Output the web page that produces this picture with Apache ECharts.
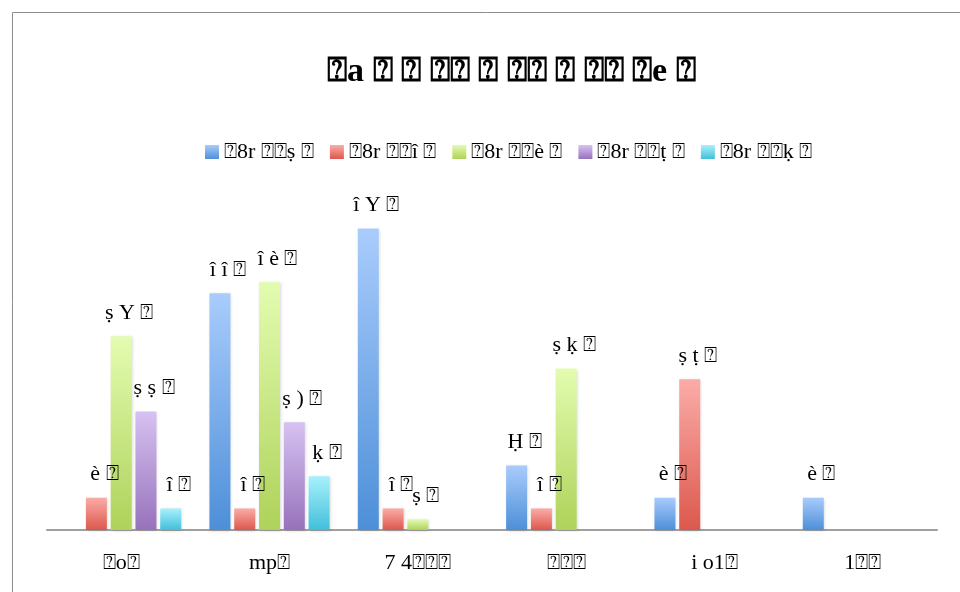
<!DOCTYPE html>
<html>
<head>
<meta charset="utf-8">
<script src="https://cdn.jsdelivr.net/npm/echarts@6/dist/echarts.min.js"></script>
<style>
  html, body { margin: 0; padding: 0; background: #fff; }
  #chart { width: 960px; height: 592px; }
</style>
</head>
<body>
<div id="chart"></div>
<script>
// missing-glyph box as it shows in the source picture
const X = "\u2370";

const titleText = X + "a " + X + " " + X + " " + X + X + " " + X + " " + X + X + " " + X + " " + X + X + " " + X + "e " + X;
const categories = [X + "o" + X, "mp" + X, "7 4" + X + X + X, X + X + X, "i o1" + X, "1" + X + X];
const seriesNames = [
  X + "8r " + X + X + "ṣ " + X,
  X + "8r " + X + X + "î " + X,
  X + "8r " + X + X + "è " + X,
  X + "8r " + X + X + "ṭ " + X,
  X + "8r " + X + X + "ḳ " + X
];

// values per series, one per category (null = no bar)
const series1 = [null, 22, 28, 6, 3, 3];
const series2 = [3, 2, 2, 2, 14, null];
const series3 = [18, 23, 1, 15, null, null];
const series4 = [11, 10, null, null, null, null];
const series5 = [2, 5, null, null, null, null];

// digits as they come out in the garbled labels
const digitGlyphs = { "0": ")", "1": "ṣ", "2": "î", "3": "è", "4": "ṭ", "5": "ḳ", "6": "Ḥ", "7": "7", "8": "Y", "9": "9" };

const colors = [
  ["#a9ccfc", "#4d8fd8"],
  ["#fbaca8", "#dc584c"],
  ["#e3fcb0", "#aed25a"],
  ["#d6c2f2", "#9772bb"],
  ["#a8f1fc", "#41bfda"]
];

const chart = echarts.init(document.getElementById("chart"));

const grad = (c) => new echarts.graphic.LinearGradient(0, 0, 0, 1, [
  { offset: 0, color: c[0] },
  { offset: 1, color: c[1] }
]);

const serif = "'Liberation Serif', 'DejaVu Serif', 'DejaVu Sans', serif";

const makeSeries = (name, data, i) => ({
  name: name,
  type: "bar",
  data: data,
  barWidth: 21,
  barGap: "18%",
  itemStyle: {
    color: grad(colors[i]),
    shadowColor: "rgba(0,0,0,0.15)",
    shadowBlur: 3,
    shadowOffsetX: 1,
    shadowOffsetY: 1
  },
  label: {
    show: true,
    position: "top",
    distance: 12,
    offset: [8, 0],
    color: "#000",
    fontFamily: serif,
    fontSize: 22,
    formatter: (p) => String(p.value).split("").map((d) => digitGlyphs[d]).join(" ") + " " + X
  }
});

const option = {
  animation: false,
  title: {
    text: titleText,
    left: 322,
    top: 50,
    textStyle: { fontFamily: serif, fontSize: 34, fontWeight: "bold", color: "#000" }
  },
  legend: {
    top: 136,
    left: 200,
    itemWidth: 14,
    itemHeight: 14,
    itemGap: 16,
    icon: "rect",
    textStyle: { fontFamily: serif, fontSize: 22, color: "#000" },
    data: seriesNames
  },
  graphic: [
    {
      type: "rect",
      shape: { x: 12.5, y: 12.5, width: 1000, height: 1000 },
      style: { fill: "none", stroke: "#8c8c8c", lineWidth: 1 },
      silent: true
    }
  ],
  grid: { left: 47, right: 23, top: 207, bottom: 62, containLabel: false },
  xAxis: {
    type: "category",
    data: categories,
    axisLine: { lineStyle: { color: "#a0a0a0", width: 2 } },
    axisTick: { show: false },
    axisLabel: { fontFamily: serif, fontSize: 22, color: "#000", margin: 22 }
  },
  yAxis: {
    type: "value",
    min: 0,
    max: 30,
    show: false,
    splitLine: { show: false }
  },
  series: [
    makeSeries(seriesNames[0], series1, 0),
    makeSeries(seriesNames[1], series2, 1),
    makeSeries(seriesNames[2], series3, 2),
    makeSeries(seriesNames[3], series4, 3),
    makeSeries(seriesNames[4], series5, 4)
  ]
};

chart.setOption(option);
</script>
</body>
</html>
